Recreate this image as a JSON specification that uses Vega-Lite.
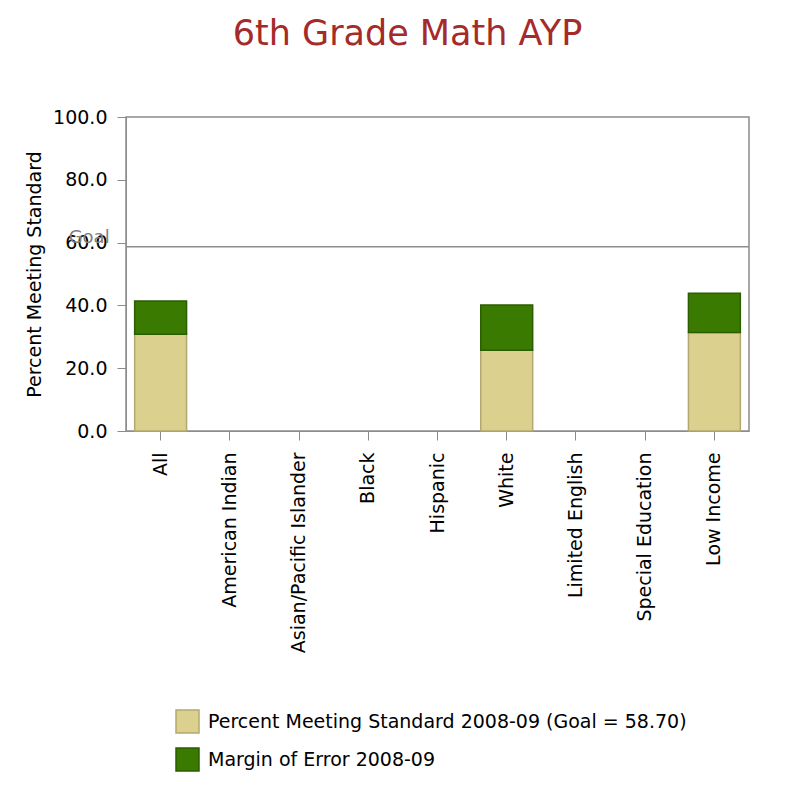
{
  "$schema": "https://vega.github.io/schema/vega-lite/v6.json",
  "width": 623,
  "height": 314,
  "autosize": "none",
  "padding": {"left": 126, "top": 117, "right": 47, "bottom": 370},
  "background": "white",
  "title": {
    "text": "6th Grade Math AYP",
    "color": "#a52a2a",
    "font": "DejaVu Sans",
    "fontSize": 35,
    "fontWeight": "normal",
    "anchor": "middle",
    "baseline": "alphabetic",
    "dx": -30,
    "offset": 28
  },
  "config": {
    "view": {"stroke": "#8c8c8c", "strokeWidth": 1.5},
    "axis": {
      "labelFont": "DejaVu Sans",
      "labelFontSize": 19,
      "labelColor": "#000000",
      "labelLimit": 0,
      "titleFont": "DejaVu Sans",
      "titleFontSize": 19,
      "titleFontWeight": "normal",
      "titleColor": "#000000",
      "tickColor": "#8c8c8c",
      "tickSize": 9,
      "domainColor": "#8c8c8c",
      "grid": false
    },
    "legend": {
      "labelFont": "DejaVu Sans",
      "labelFontSize": 19,
      "labelColor": "#000000",
      "labelLimit": 0
    }
  },
  "data": {
    "values": [
      {"group": "All", "series": "Percent Meeting Standard 2008-09 (Goal = 58.70)", "value": 30.8},
      {"group": "All", "series": "Margin of Error 2008-09", "value": 10.6},
      {"group": "White", "series": "Percent Meeting Standard 2008-09 (Goal = 58.70)", "value": 25.7},
      {"group": "White", "series": "Margin of Error 2008-09", "value": 14.4},
      {"group": "Low Income", "series": "Percent Meeting Standard 2008-09 (Goal = 58.70)", "value": 31.4},
      {"group": "Low Income", "series": "Margin of Error 2008-09", "value": 12.5}
    ]
  },
  "layer": [
    {
      "mark": {"type": "bar", "strokeWidth": 1.5},
      "encoding": {
        "x": {
          "field": "group",
          "type": "nominal",
          "scale": {
            "domain": ["All", "American Indian", "Asian/Pacific Islander", "Black", "Hispanic", "White", "Limited English", "Special Education", "Low Income"],
            "paddingInner": 0.25,
            "paddingOuter": 0.125
          },
          "axis": {"title": null, "labelAngle": -90, "labelPadding": 12, "labelLimit": 0}
        },
        "y": {
          "field": "value",
          "type": "quantitative",
          "stack": "zero",
          "scale": {"domain": [0, 100], "nice": false},
          "axis": {
            "title": "Percent Meeting Standard",
            "values": [0, 20, 40, 60, 80, 100],
            "format": ".1f",
            "labelPadding": 10,
            "titlePadding": 8
          }
        },
        "color": {
          "field": "series",
          "type": "nominal",
          "scale": {
            "domain": ["Percent Meeting Standard 2008-09 (Goal = 58.70)", "Margin of Error 2008-09"],
            "range": ["#dbd08e", "#3a7a00"]
          },
          "legend": {
            "title": null,
            "orient": "none",
            "legendX": 49,
            "legendY": 592,
            "padding": 0,
            "symbolType": "square",
            "symbolSize": 529,
            "symbolStrokeWidth": 1.5,
            "rowPadding": 9,
            "labelOffset": 8,
            "labelLimit": 0
          }
        },
        "stroke": {
          "field": "series",
          "type": "nominal",
          "scale": {
            "domain": ["Percent Meeting Standard 2008-09 (Goal = 58.70)", "Margin of Error 2008-09"],
            "range": ["#b3a96f", "#2b5e00"]
          }
        },
        "order": {"field": "series", "sort": "descending"}
      }
    },
    {
      "data": {"values": [{"label": "Goal", "goal": 58.7}]},
      "mark": {"type": "rule", "color": "#8c8c8c", "strokeWidth": 1.5},
      "encoding": {
        "y": {"field": "goal", "type": "quantitative"}
      }
    },
    {
      "data": {"values": [{"label": "Goal", "goal": 58.7}]},
      "mark": {"type": "text", "font": "DejaVu Sans", "fontSize": 18, "color": "#808080", "align": "right", "baseline": "alphabetic", "dx": -25, "dy": -4},
      "encoding": {
        "x": {"datum": "All", "bandPosition": 0},
        "y": {"field": "goal", "type": "quantitative"},
        "text": {"field": "label"}
      }
    }
  ]
}
